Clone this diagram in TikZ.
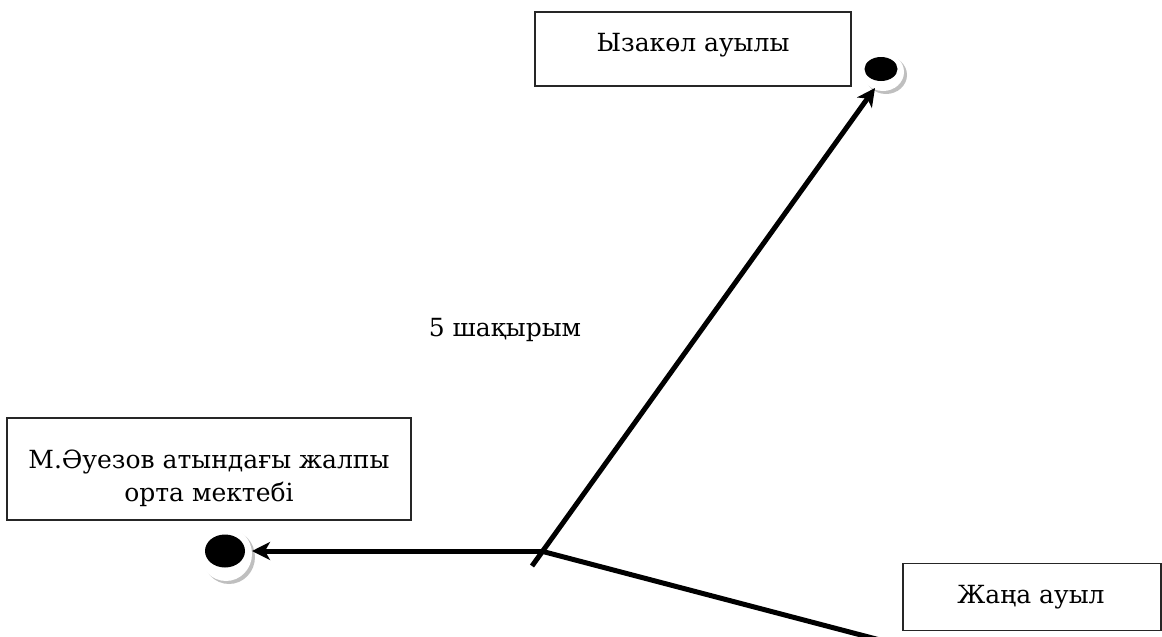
\documentclass[tikz,border=0pt]{standalone}
\usepackage{fontspec}
\setmainfont{DejaVu Serif}
\usetikzlibrary{arrows.meta,shapes.geometric,calc}
\begin{document}
\begin{tikzpicture}[x=1pt,y=-1pt,
  box/.style={draw=black!85, line width=1.6pt, fill=white, inner sep=0pt},
  txt/.style={align=center, inner sep=0pt, font=\fontsize{25}{33}\selectfont},
  road/.style={line width=5pt, line cap=butt},
  arr/.style={road, -{Stealth[length=18pt,width=18pt,inset=5pt]}},
  dotnode/.style={ellipse, inner sep=0pt, fill=black}
]
\useasboundingbox (0,0) rectangle (1162,637);
% boxes
\node[box, minimum width=316pt, minimum height=74pt] (yz) at (693,49) {};
\node[txt] (yzt) at (693,45) {Ызакөл ауылы};
\node[box, minimum width=404pt, minimum height=102pt] (ms) at (209,469) {};
\node[txt] (mst) at (209,478) {М.Әуезов атындағы жалпы\\орта мектебі};
\node[box, minimum width=258pt, minimum height=67pt, anchor=west] (ja) at (902,597) {};
\node[txt] (jat) at (1031,597) {Жаңа ауыл};
\node[txt] (km) at (505,330) {5 шақырым};
% dots with halo
\fill[black!25] (886,75) ellipse (21pt and 19pt);
\fill[white] (883,72) ellipse (21pt and 19pt);
\node[dotnode, minimum width=33pt, minimum height=24pt] (d1) at (881,69) {};
\fill[black!25] (229,557) ellipse (26pt and 27pt);
\fill[white] (226,554) ellipse (26pt and 27pt);
\node[dotnode, minimum width=40pt, minimum height=33pt] (d2) at (225,551) {};
% connectors
\coordinate (c0) at (532,566);
\coordinate (c1) at (541,551);
\coordinate (c2) at (541,551);
\coordinate (c3) at (880,640);
\draw[arr] (c0) -- ($(d1)+(-6,19)$);
\draw[arr] (c1) -- ($(d2)+(27,0)$);
\draw[road] (c2) -- (c3);
\end{tikzpicture}
\end{document}
